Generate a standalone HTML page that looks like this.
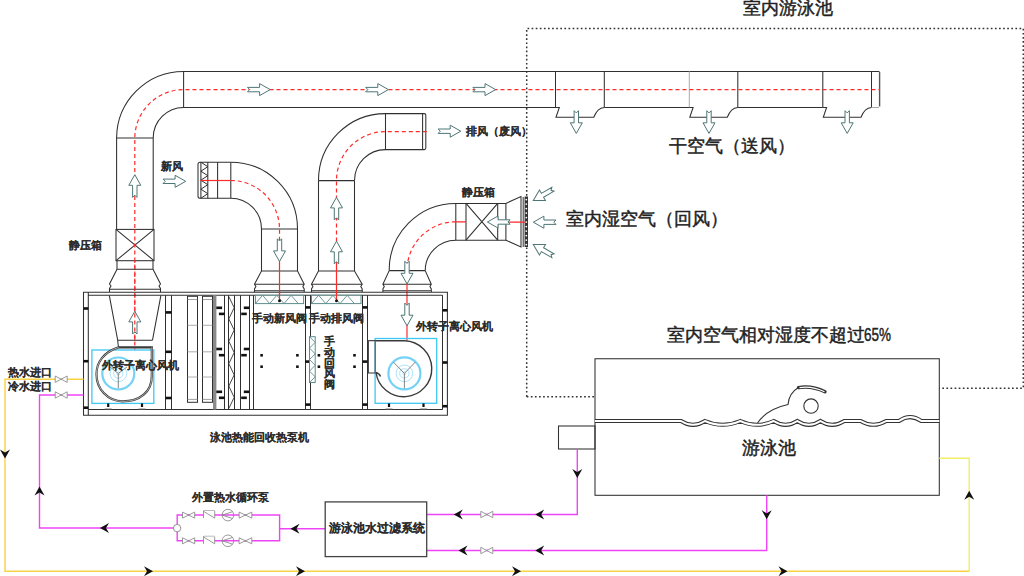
<!DOCTYPE html>
<html><head><meta charset="utf-8">
<style>
html,body{margin:0;padding:0;background:#fff;overflow:hidden}
svg{display:block;}
text{font-family:"Liberation Sans",sans-serif;fill:#262626;}
.b{font-weight:bold;font-size:11px;fill:#2a2a2a;stroke:#2a2a2a;stroke-width:0.05}
.L{font-size:18px;fill:#222;stroke:#222;stroke-width:0.45}
.M{font-size:16px;fill:#222;stroke:#222;stroke-width:0.45}
</style></head><body>
<svg width="1024" height="576" viewBox="0 0 1024 576">
<defs>
<path id="ar" d="M-11.5,-2.2 H0.6 V-6 L11.2,0 L0.6,6 V2.2 H-11.5 L-9.3,0 Z" fill="#fff" stroke="#4f7676" stroke-width="1"/>
<path id="bh" d="M0,0 L-9,-5 L-6,0 L-9,5 Z" fill="#111"/>
</defs>

<g fill="none" stroke="#333" stroke-width="1.5" stroke-dasharray="1.7 2.4">
<path d="M526.7,396.7 V28.5 H1023.3 V388.2 H939.3"/>
<path d="M526.7,396.7 H595"/>
</g>
<g fill="none" stroke="#303030" stroke-width="1.05">
<path d="M116.6,229.4 V138 A67,67 0 0 1 183.6,71.4 H879.5"/>
<path d="M153.2,229.4 V138 A30.5,30.5 0 0 1 183.6,107.5 H559.3"/>
<path d="M116.6,138 H153.2 M183.6,71.4 V107.5"/>
<path d="M555.5,71.4 V107.5"/>
<path d="M604.3,71.4 V107.5"/>
<path d="M737.8,71.4 V107.5"/>
<path d="M822.8,71.4 V107.5"/>
<path d="M871.5,71.4 V107.5"/>
</g>
<path d="M689.3,71.4 V107.5" stroke="#aaa" stroke-width="1" fill="none"/><path d="M879.6,72 V106.5" stroke="#555" stroke-width="1.4" fill="none"/>
<g fill="none" stroke="#303030" stroke-width="1.05">
<path d="M555.5,107.5 H559.3 L556.0,117.3 H593.8 Q597.3,108 604.3,107.5"/>
<path d="M689.3,107.5 H693.0999999999999 L689.8,117.3 H727.3 Q730.8,108 737.8,107.5"/>
<path d="M822.8,107.5 H826.5999999999999 L823.3,117.3 H861.0 Q864.5,108 871.5,107.5"/>
<path d="M604.3,107.5 H689.3 M737.8,107.5 H822.8"/><path d="M871.5,107.5 H879" stroke="#aaa"/>
</g>
<path d="M134.8,340 V138 A48.8,48.8 0 0 1 183.6,89.6 H880" fill="none" stroke="#ff2a2a" stroke-width="1.2" stroke-dasharray="4 3"/>
<use href="#ar" transform="translate(259,89.6) rotate(0)"/>
<use href="#ar" transform="translate(377.2,89.6) rotate(0)"/>
<use href="#ar" transform="translate(484.4,89.6) rotate(0)"/>
<use href="#ar" transform="translate(576.3,122.2) rotate(90)"/>
<use href="#ar" transform="translate(709,122.2) rotate(90)"/>
<use href="#ar" transform="translate(847.2,122.2) rotate(90)"/>
<use href="#ar" transform="translate(134.8,185.9) rotate(-90)"/>
<use href="#ar" transform="translate(134.8,322.5) rotate(-90)"/>
<g fill="none" stroke="#303030" stroke-width="1.05">
<rect x="116" y="229.4" width="38" height="31.3" fill="#fff"/>
<path d="M116,229.4 L154,260.7 M154,229.4 L116,260.7"/>
<path d="M117,260.7 V269.3 H153 V260.7"/>
<path d="M117,269.3 L109.5,284 L111,286 L109.5,288.5 V292 M153,269.3 L160.5,284 L159,286 L160.5,288.5 V292"/>
<path d="M109.5,289.2 H160.5"/>
</g>
<path d="M134.8,229.4 V350" stroke="#ff2a2a" stroke-width="1.2" stroke-dasharray="4 3"/>
<g fill="none" stroke="#303030" stroke-width="1.05">
<path d="M230.8,162.2 H200 Q198,162.2 198,164.2 V196.2 Q198,198.2 200,198.2 H230.8"/>
<path d="M200.9,162.2 V198.2 M207.8,162.2 V198.2 M217.6,162.2 V198.2 M230.8,162.2 V198.2"/>
<path d="M200.9,162.2 L207.8,166.7 L200.9,171.2 L207.8,175.7 L200.9,180.2 L207.8,184.7 L200.9,189.2 L207.8,193.7 L200.9,198.2" stroke-width="1"/>
<path d="M230.8,162.2 A66.7,66.7 0 0 1 297.5,228.9 V270.9 L304.2,284.3 L302.8,286.6 L304.2,289 V292"/>
<path d="M230.8,198.2 A30.7,30.7 0 0 1 261.5,228.9 V270.9 L254.5,284.3 L255.9,286.6 L254.5,289 V292"/>
<path d="M261.5,228.9 H297.5 M261.5,270.9 H297.5 M254.5,284.3 H304.2 M254.5,290.7 H304.2"/>
</g>
<path d="M200.6,180.5 H230.8" stroke="#ff2a2a" stroke-width="1.2"/>
<path d="M230.8,180.5 A48.7,48.7 0 0 1 279.5,229.2 V240" fill="none" stroke="#ff2a2a" stroke-width="1.2" stroke-dasharray="4 3"/>
<path d="M279.5,258 V300.8" stroke="#ff2a2a" stroke-width="1.2"/>
<circle cx="279.5" cy="300.8" r="1.4" fill="#111"/>
<use href="#ar" transform="translate(279.5,250.3) rotate(90)"/>
<use href="#ar" transform="translate(174.5,181.3) rotate(0)"/>
<g fill="none" stroke="#303030" stroke-width="1.05">
<path d="M318.5,180.6 A67,67 0 0 1 385.5,113.6 H424.3 Q425.8,113.6 425.8,115.1 V148.1 Q425.8,149.6 424.3,149.6 H385.5 A31,31 0 0 0 354.5,180.6"/>
<path d="M385.5,113.6 V149.6 M422.6,113.6 V149.6"/>
<path d="M318.5,180.6 V270.9 L311.5,284.3 L312.9,286.6 L311.5,289 V292 M354.5,180.6 V270.9 L362.2,284.3 L360.8,286.6 L362.2,289 V292"/>
<path d="M318.5,180.6 H354.5 M318.5,270.9 H354.5 M311.5,284.3 H362.2 M311.5,290.7 H362.2"/>
</g>
<path d="M426.8,131.6 H385.5 A49,49 0 0 0 336.5,180.6 V245" fill="none" stroke="#ff2a2a" stroke-width="1.2" stroke-dasharray="4 3"/>
<path d="M336.5,260 V300.8" stroke="#ff2a2a" stroke-width="1.2"/>
<circle cx="336.5" cy="300.8" r="1.4" fill="#111"/>
<use href="#ar" transform="translate(336.5,208.5) rotate(-90)"/>
<use href="#ar" transform="translate(336.5,252.4) rotate(-90)"/>
<use href="#ar" transform="translate(449.6,131.2) rotate(0)"/>
<g fill="none" stroke="#303030" stroke-width="1.05">
<path d="M389.2,270.6 A66.6,66.6 0 0 1 455.8,203.4 H505.9 M425.2,270.6 A30.6,30.6 0 0 1 455.8,240.2 H505.9"/>
<path d="M455.8,203.4 V240.2 M466,203.4 V240.2 M497.7,203.4 V240.2 M505.9,203.4 V240.2"/>
<path d="M466,203.4 L497.7,240.2 M497.7,203.4 L466,240.2"/>
<path d="M505.9,203.4 L521,196.5 V247 L505.9,240.2"/>
<path d="M523.2,197 V247" stroke-width="1"/>
<path d="M389.2,270.6 H425.2 M389.2,270.6 L382.9,284.2 L384.3,286.5 L382.9,289 V292 M425.2,270.6 L431.3,284.2 L429.9,286.5 L431.3,289 V292 M382.9,284.2 H431.3 M382.9,290.7 H431.3"/>
</g>
<rect x="524.6" y="196.5" width="3.4" height="50.5" fill="#333"/>
<circle cx="526.3" cy="199.6" r="0.9" fill="#fff"/>
<circle cx="526.3" cy="204.1" r="0.9" fill="#fff"/>
<circle cx="526.3" cy="208.6" r="0.9" fill="#fff"/>
<circle cx="526.3" cy="213.1" r="0.9" fill="#fff"/>
<circle cx="526.3" cy="217.6" r="0.9" fill="#fff"/>
<circle cx="526.3" cy="222.1" r="0.9" fill="#fff"/>
<circle cx="526.3" cy="226.6" r="0.9" fill="#fff"/>
<circle cx="526.3" cy="231.1" r="0.9" fill="#fff"/>
<circle cx="526.3" cy="235.6" r="0.9" fill="#fff"/>
<circle cx="526.3" cy="240.1" r="0.9" fill="#fff"/>
<circle cx="526.3" cy="244.6" r="0.9" fill="#fff"/>
<path d="M455.8,221.8 A48.8,48.8 0 0 0 407,270.6 V262" fill="none" stroke="#ff2a2a" stroke-width="1.2" stroke-dasharray="4 3"/>
<path d="M455.8,221.8 H466 M508,222.2 H525" stroke="#ff2a2a" stroke-width="1.2"/>
<path d="M407,283 V340.5" stroke="#ff2a2a" stroke-width="1.2"/>
<use href="#ar" transform="translate(407,272.7) rotate(90)"/>
<use href="#ar" transform="translate(407,314.6) rotate(90)"/>
<use href="#ar" transform="translate(498.6,222) rotate(180)"/>
<use href="#ar" transform="translate(544.5,222.2) rotate(180)"/>
<use href="#ar" transform="translate(543,195) rotate(150)"/>
<use href="#ar" transform="translate(543,250) rotate(210)"/>
<g fill="none" stroke="#303030" stroke-width="1.05">
<path d="M83.5,292.2 H447.4 V415.2 H83.5 Z"/>
<path d="M88.3,295.2 H442.6 M88.3,409.5 H442.6 M88.3,292.2 V415.2"/>
<path d="M165.5,295.2 V409.5"/>
<path d="M171.5,295.2 V409.5"/>
<path d="M224.5,295.2 V409.5"/>
<path d="M240.5,295.2 V409.5"/>
<path d="M249.5,295.2 V409.5"/>
<path d="M253.5,295.2 V409.5"/>
<path d="M305.5,295.2 V409.5"/>
<path d="M310.5,295.2 V409.5"/>
<path d="M362.5,295.2 V409.5"/>
<path d="M367.5,295.2 V409.5"/>
<path d="M442.5,295.2 V409.5"/>
<rect x="213" y="295.2" width="3.4" height="114.3" fill="#8a8a8a" stroke="none"/>
<rect x="187.5" y="296.3" width="10.0" height="106" stroke-width="1"/>
<path d="M187.5,299.5 H197.5 M187.5,399.4 H197.5" stroke-width="0.8" stroke="#888"/>
<path d="M187.5,325.3 H197.5" stroke-width="0.8" stroke="#999"/>
<path d="M187.5,351.8 H197.5" stroke-width="0.8" stroke="#999"/>
<path d="M187.5,377 H197.5" stroke-width="0.8" stroke="#999"/>
<rect x="202.5" y="296.3" width="10.0" height="106" stroke-width="1"/>
<path d="M202.5,299.5 H212.5 M202.5,399.4 H212.5" stroke-width="0.8" stroke="#888"/>
<path d="M202.5,325.3 H212.5" stroke-width="0.8" stroke="#999"/>
<path d="M202.5,351.8 H212.5" stroke-width="0.8" stroke="#999"/>
<path d="M202.5,377 H212.5" stroke-width="0.8" stroke="#999"/>
<path d="M228.5,295.2 V409.5 M234.5,295.2 V409.5" stroke-width="1"/>
<path d="M228.8,296.5 L234.2,307.7 L228.8,318.9 L234.2,330.1 L228.8,341.3 L234.2,352.5 L228.8,363.7 L234.2,374.9 L228.8,386.1 L234.2,397.3 L228.8,408.5" stroke-width="0.9"/>
<path d="M109.3,295.4 L117.7,340.2 Q118,345 118.6,347.4 M160.9,295.4 L152.5,340.2 M117.7,340.2 H152.5"/>
</g>
<rect x="83.5" y="307.2" width="4.799999999999997" height="2.6" fill="#111"/>
<rect x="83.5" y="359.9" width="4.799999999999997" height="2.6" fill="#111"/>
<rect x="83.5" y="406.4" width="4.799999999999997" height="2.6" fill="#111"/>
<rect x="165.5" y="311.09999999999997" width="6.0" height="2.6" fill="#111"/>
<rect x="165.5" y="350.5" width="6.0" height="2.6" fill="#111"/>
<rect x="165.5" y="396.7" width="6.0" height="2.6" fill="#111"/>
<rect x="216.3" y="306.5" width="5.799999999999983" height="2.6" fill="#111"/>
<rect x="243.8" y="306.5" width="5.599999999999994" height="2.6" fill="#111"/>
<rect x="216.3" y="347.7" width="5.799999999999983" height="2.6" fill="#111"/>
<rect x="243.8" y="347.7" width="5.599999999999994" height="2.6" fill="#111"/>
<rect x="216.3" y="390.5" width="5.799999999999983" height="2.6" fill="#111"/>
<rect x="243.8" y="390.5" width="5.599999999999994" height="2.6" fill="#111"/>
<rect x="218.9" y="312.59999999999997" width="5.799999999999983" height="2.6" fill="#111"/>
<rect x="241.2" y="312.59999999999997" width="5.600000000000023" height="2.6" fill="#111"/>
<rect x="218.9" y="353.9" width="5.799999999999983" height="2.6" fill="#111"/>
<rect x="241.2" y="353.9" width="5.600000000000023" height="2.6" fill="#111"/>
<rect x="218.9" y="396.5" width="5.799999999999983" height="2.6" fill="#111"/>
<rect x="241.2" y="396.5" width="5.600000000000023" height="2.6" fill="#111"/>
<rect x="305.2" y="306.09999999999997" width="5.100000000000023" height="2.6" fill="#111"/>
<rect x="362.5" y="306.09999999999997" width="5.100000000000023" height="2.6" fill="#111"/>
<rect x="305.2" y="360.3" width="5.100000000000023" height="2.6" fill="#111"/>
<rect x="362.5" y="360.3" width="5.100000000000023" height="2.6" fill="#111"/>
<rect x="305.2" y="403.3" width="5.100000000000023" height="2.6" fill="#111"/>
<rect x="362.5" y="403.3" width="5.100000000000023" height="2.6" fill="#111"/>
<rect x="442.6" y="309.0" width="4.7999999999999545" height="2.6" fill="#111"/>
<rect x="442.6" y="361.2" width="4.7999999999999545" height="2.6" fill="#111"/>
<rect x="442.6" y="404.9" width="4.7999999999999545" height="2.6" fill="#111"/>
<rect x="260.3" y="354.0" width="2.6" height="2.6" fill="#111"/>
<rect x="260.3" y="365.4" width="2.6" height="2.6" fill="#111"/>
<rect x="296.09999999999997" y="354.0" width="2.6" height="2.6" fill="#111"/>
<rect x="296.09999999999997" y="365.4" width="2.6" height="2.6" fill="#111"/>
<rect x="317.59999999999997" y="354.0" width="2.6" height="2.6" fill="#111"/>
<rect x="317.59999999999997" y="365.4" width="2.6" height="2.6" fill="#111"/>
<rect x="353.2" y="354.0" width="2.6" height="2.6" fill="#111"/>
<rect x="353.2" y="365.4" width="2.6" height="2.6" fill="#111"/>
<rect x="255.4" y="295.3" width="48.20000000000002" height="8.300000000000011" fill="#fff" stroke="#5e8b8b" stroke-width="1"/>
<path d="M255.4,303.6 L262.6,295.3 L269.7,303.6 L276.8,295.3 L284.0,303.6 L291.1,295.3 L298.3,303.6" fill="none" stroke="#5e8b8b" stroke-width="0.9"/>
<rect x="311.5" y="295.3" width="49.5" height="8.300000000000011" fill="#fff" stroke="#5e8b8b" stroke-width="1"/>
<path d="M311.5,303.6 L318.6,295.3 L325.8,303.6 L332.9,295.3 L340.1,303.6 L347.2,295.3 L354.4,303.6" fill="none" stroke="#5e8b8b" stroke-width="0.9"/>
<rect x="309.5" y="336.7" width="5.699999999999989" height="45.80000000000001" fill="#fff" stroke="#5e8b8b" stroke-width="1"/>
<path d="M309.5,336.7 L315.2,342.4 L309.5,348.1 L315.2,353.9 L309.5,359.6 L315.2,365.3 L309.5,371.1 L315.2,376.8 L309.5,382.5" fill="none" stroke="#5e8b8b" stroke-width="0.9"/>
<path d="M279.5,292 V300.8 M336.5,292 V300.8" stroke="#ff2a2a" stroke-width="1.2"/>
<circle cx="279.5" cy="300.8" r="1.5" fill="#111"/><circle cx="336.5" cy="300.8" r="1.5" fill="#111"/>
<rect x="91.9" y="350" width="61.9" height="53.4" fill="none" stroke="#3ec8f4" stroke-width="1.3"/>
<circle cx="118.3" cy="373.5" r="16" fill="none" stroke="#74d2f6" stroke-width="2.2"/>
<circle cx="118.3" cy="373.5" r="8.3" fill="none" stroke="#9fe0f8" stroke-width="0.9"/>
<circle cx="118.3" cy="373.5" r="4.7" fill="none" stroke="#9fe0f8" stroke-width="0.9"/>
<circle cx="118.3" cy="373.5" r="1.6" fill="none" stroke="#9fe0f8" stroke-width="0.8"/>
<path d="M110.1,366.9 L118.3,373.5 L127,366.9 M118.3,373.5 L118.3,388.4" stroke="#777" stroke-width="0.9" fill="none"/>
<path d="M118.6,347.4 C104,352 96.5,362 96.5,374 A26,27 0 0 0 122.5,401.4 C140,401.4 151.8,392 151.8,376 V347.4 H118.6" fill="none" stroke="#3a3a3a" stroke-width="2.2"/>
<path d="M118.6,347.4 C104,352 96.5,362 96.5,374 A26,27 0 0 0 122.5,401.4 C140,401.4 151.8,392 151.8,376 V347.4" fill="none" stroke="#fff" stroke-width="0.6"/>
<path d="M108.2,403.4 V407" stroke="#111" stroke-width="2.2"/><path d="M104.7,408.6 H111.7" stroke="#bbb" stroke-width="1.2"/>
<path d="M142,403.4 V407" stroke="#111" stroke-width="2.2"/><path d="M138.5,408.6 H145.5" stroke="#bbb" stroke-width="1.2"/>
<rect x="375.1" y="338.5" width="61.6" height="64.8" fill="none" stroke="#3ec8f4" stroke-width="1.3"/>
<circle cx="404.4" cy="373.4" r="16" fill="none" stroke="#74d2f6" stroke-width="2.2"/>
<circle cx="404.4" cy="373.4" r="8.3" fill="none" stroke="#9fe0f8" stroke-width="0.9"/>
<circle cx="404.4" cy="373.4" r="4.7" fill="none" stroke="#9fe0f8" stroke-width="0.9"/>
<circle cx="404.4" cy="373.4" r="1.6" fill="none" stroke="#9fe0f8" stroke-width="0.8"/>
<path d="M393.3,362 L404.4,373.4 L415.4,362 M404.4,373.4 L404.4,388.4" stroke="#777" stroke-width="0.9" fill="none"/>
<path d="M368.4,340.7 H404.5 A28,28 0 1 1 376,372.5 Q379.5,373.5 380.5,376.5" fill="none" stroke="#3a3a3a" stroke-width="1.4"/>
<rect x="368.4" y="340.7" width="6.7" height="32.3" fill="#fff" stroke="#444" stroke-width="1.1"/>
<path d="M375.3,341 V372.6" stroke="#1c8fc0" stroke-width="1.2"/>
<path d="M389,403.4 V407" stroke="#111" stroke-width="2.2"/><path d="M385.5,408.6 H392.5" stroke="#bbb" stroke-width="1.2"/>
<path d="M423.5,403.4 V407" stroke="#111" stroke-width="2.2"/><path d="M420.0,408.6 H427.0" stroke="#bbb" stroke-width="1.2"/>
<g fill="none" stroke="#303030" stroke-width="1.05">
<rect x="595" y="358.75" width="344.3" height="136.55"/>
<rect x="558.5" y="426" width="36.5" height="23"/>
</g>
<path d="M595,421 H681 Q693,428.7 705,421 Q722.5,428.7 740.3,421 Q757,428.7 773.7,421 Q785.5,428.7 797.3,421 Q809,428.7 820.4,421 Q832,428.7 844.3,421 H860.6 Q873.4,428.7 886.2,421 H899 Q910,413.2 921.3,421 H939.3" fill="none" stroke="#333" stroke-width="4"/>
<path d="M595,421 H681 Q693,428.7 705,421 Q722.5,428.7 740.3,421 Q757,428.7 773.7,421 Q785.5,428.7 797.3,421 Q809,428.7 820.4,421 Q832,428.7 844.3,421 H860.6 Q873.4,428.7 886.2,421 H899 Q910,413.2 921.3,421 H939.3" fill="none" stroke="#fff" stroke-width="2"/>
<path d="M757.5,423 Q767,409 788,404.5 Q789,393 798.5,387.5" fill="none" stroke="#333" stroke-width="1.1"/>
<path d="M798.5,387.6 Q812,385.5 825,391.8" fill="none" stroke="#333" stroke-width="3.4" stroke-linecap="round"/>
<path d="M799.5,387.6 Q812,385.5 824.5,391.8" fill="none" stroke="#fff" stroke-width="1.2"/>
<circle cx="811" cy="406.1" r="7.2" fill="none" stroke="#333" stroke-width="1.1"/>
<g fill="none" stroke="#ee44f6" stroke-width="1.4">
<path d="M83.5,395 H39.5 V528 H173.7"/>
<path d="M177.2,524.5 V515 H279.6 V540.7 H177.2 V531.5 M279.6,528.7 H325.2"/>
<path d="M426.7,514.5 H577.3 V449 M426.7,550.5 H766.7 V495.3"/>
</g>
<circle cx="177.1" cy="528.1" r="3.7" fill="#fff" stroke="#888" stroke-width="0.9"/>
<path d="M83.5,379.2 H5 V571.2 H969.2" fill="none" stroke="#f7d244" stroke-width="1.4"/>
<path d="M969.2,571.2 V458.3 H939.3" fill="none" stroke="#f2ee66" stroke-width="1.4"/>
<path d="M55.2,376.0 L67.2,382.4 V376.0 L55.2,382.4 Z" fill="#fff" stroke="#8a8a8a" stroke-width="0.85"/>
<path d="M55.2,391.8 L67.2,398.2 V391.8 L55.2,398.2 Z" fill="#fff" stroke="#8a8a8a" stroke-width="0.85"/>
<path d="M480.8,511.3 L492.8,517.7 V511.3 L480.8,517.7 Z" fill="#fff" stroke="#8a8a8a" stroke-width="0.85"/>
<path d="M480.8,547.3 L492.8,553.7 V547.3 L480.8,553.7 Z" fill="#fff" stroke="#8a8a8a" stroke-width="0.85"/>
<path d="M182.5,512.1 L194.7,518.1 V512.1 L182.5,518.1 Z M239.1,512.1 L251.8,518.1 V512.1 L239.1,518.1 Z" fill="#fff" stroke="#888" stroke-width="0.85"/>
<rect x="203.5" y="510.5" width="11.2" height="7.6" fill="#fff" stroke="none"/>
<path d="M203.5,518.1 V510.5 M214.7,518.1 V510.90000000000003 M203.5,511.3 L214.7,518.1" fill="none" stroke="#888" stroke-width="0.85"/>
<path d="M204,510.5 H214.7" stroke="#aaa" stroke-width="0.8"/>
<circle cx="227.9" cy="515.1" r="5.8" fill="none" stroke="#888" stroke-width="0.85"/>
<path d="M232.6,511.70000000000005 L222.2,515.1 L232.6,518.5" fill="none" stroke="#888" stroke-width="0.85"/>
<path d="M182.5,537.8 L194.7,543.8 V537.8 L182.5,543.8 Z M239.1,537.8 L251.8,543.8 V537.8 L239.1,543.8 Z" fill="#fff" stroke="#888" stroke-width="0.85"/>
<rect x="203.5" y="536.1999999999999" width="11.2" height="7.6" fill="#fff" stroke="none"/>
<path d="M203.5,543.8 V536.1999999999999 M214.7,543.8 V536.5999999999999 M203.5,537.0 L214.7,543.8" fill="none" stroke="#888" stroke-width="0.85"/>
<path d="M204,536.1999999999999 H214.7" stroke="#aaa" stroke-width="0.8"/>
<circle cx="227.9" cy="540.8" r="5.8" fill="none" stroke="#888" stroke-width="0.85"/>
<path d="M232.6,537.4 L222.2,540.8 L232.6,544.1999999999999" fill="none" stroke="#888" stroke-width="0.85"/>
<use href="#bh" transform="translate(5,458.5) rotate(90)"/>
<use href="#bh" transform="translate(39.5,486.5) rotate(-90)"/>
<use href="#bh" transform="translate(100,528) rotate(180)"/>
<use href="#bh" transform="translate(290.5,528.7) rotate(180)"/>
<use href="#bh" transform="translate(453.8,514.5) rotate(180)"/>
<use href="#bh" transform="translate(535.2,514.5) rotate(180)"/>
<use href="#bh" transform="translate(458.5,550.5) rotate(180)"/>
<use href="#bh" transform="translate(535.2,550.5) rotate(180)"/>
<use href="#bh" transform="translate(577.3,478) rotate(90)"/>
<use href="#bh" transform="translate(766.7,519.2) rotate(90)"/>
<use href="#bh" transform="translate(153,571.2) rotate(0)"/>
<use href="#bh" transform="translate(305,571.2) rotate(0)"/>
<use href="#bh" transform="translate(521,571.2) rotate(0)"/>
<use href="#bh" transform="translate(787.5,571.2) rotate(0)"/>
<use href="#bh" transform="translate(969.2,490.8) rotate(-90)"/>
<rect x="325.2" y="501.9" width="101.5" height="54.7" fill="#fff" stroke="#444" stroke-width="1.3"/>
<text x="69.3" y="249" class="b" >静压箱</text>
<text x="161" y="170" class="b" >新风</text>
<text x="251.8" y="322.1" class="b" >手动新风阀</text>
<text x="309.1" y="322.1" class="b" >手动排风阀</text>
<text x="323.6" y="345.3" class="b" >手</text>
<text x="323.6" y="355.9" class="b" >动</text>
<text x="323.6" y="366.5" class="b" >回</text>
<text x="323.6" y="377.1" class="b" >风</text>
<text x="323.6" y="387.7" class="b" >阀</text>
<text x="102.3" y="368.6" class="b" >外转子离心风机</text>
<text x="416.2" y="330.3" class="b" >外转子离心风机</text>
<text x="461.5" y="196.4" class="b" >静压箱</text>
<text x="466" y="135.3" class="b" >排风（废风）</text>
<text x="8" y="375.5" class="b" >热水进口</text>
<text x="8" y="390.3" class="b" >冷水进口</text>
<text x="210" y="440.9" class="b" >泳池热能回收热泵机</text>
<text x="191.7" y="500.9" class="b" >外置热水循环泵</text>
<text x="329.2" y="531.7" class="b" style="font-size:12px">游泳池水过滤系统</text>
<text x="742.8" y="14.2" class="L" >室内游泳池</text>
<text x="669.3" y="152.4" class="L" >干空气（送风）</text>
<text x="565.6" y="224.6" class="L" >室内湿空气（回风）</text>
<text x="666.5" y="341.4" class="L" >室内空气相对湿度不超过</text>
<text x="864" y="341.4" class="L" textLength="27" lengthAdjust="spacingAndGlyphs">65%</text>
<text x="742.2" y="453.5" class="L" >游泳池</text>
</svg>
</body></html>
